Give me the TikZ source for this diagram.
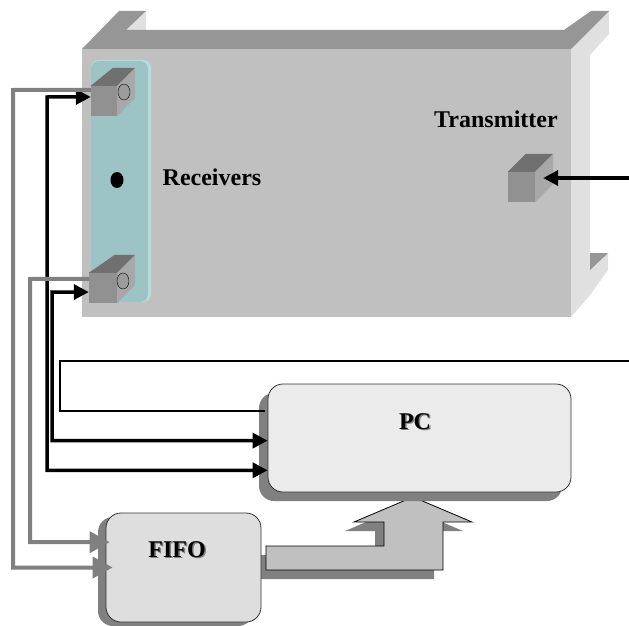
\documentclass[tikz,border=0pt]{standalone}
\usepackage{xcolor}
\usepackage{fontspec}
\setmainfont{Liberation Serif}
\usepackage{tikz}
\usetikzlibrary{
	arrows.meta,
	calc,
	shadows
}
\definecolor{CaseFront}{RGB}{192,192,192}
\definecolor{CaseTop}{RGB}{150,150,150}
\definecolor{CaseSide}{RGB}{224,224,224}
\definecolor{BarTeal}{RGB}{156,196,196}
\definecolor{BarEdge}{RGB}{181,222,222}
\definecolor{CubeFront}{RGB}{145,145,145}
\definecolor{CubeTop}{RGB}{112,112,112}
\definecolor{CubeSide}{RGB}{168,168,168}
\definecolor{WireGray}{RGB}{128,128,128}
\newcommand{\castlabel}[1]{\rlap{\kern1.5pt\raisebox{-1.5pt}{\textcolor{WireGray}{#1}}}#1}
\tikzset{
	capt/.style={font=\fontsize{24}{26}\selectfont\bfseries, inner sep=0pt},
	cubeface/.style={fill=CubeFront, inner sep=0pt},
	unitbox/.style={draw=black!80, line width=0.8pt, rounded corners=15pt, inner sep=0pt},
	graywire/.style={draw=WireGray, line width=4pt, -{Triangle[length=20pt,width=21pt]}},
	blackwire/.style={draw=black, line width=3.5pt, -{Triangle[length=15pt,width=15pt]}},
	thinwire/.style={draw=black, line width=2pt}
}

\begin{document}
\begin{tikzpicture}[x=1pt, y=-1pt]
		\useasboundingbox (0,0) rectangle (629,626);
		
		% case
		\fill[CaseSide] (126,30) -- (146,11) -- (146,30) -- cycle;
		\fill[CaseSide] (571,49) -- (609,11) -- (609,34) -- (590,55) -- (590,253) -- (608,253) -- (608,270) -- (590,295) -- (571,317) -- cycle;
		\fill[CaseTop] (590,253) -- (608,253) -- (590,270) -- cycle;
		\fill[CaseTop] (82,49) -- (119,11) -- (146,11) -- (126,30) -- (564,30) -- (591,11) -- (609,11) -- (571,49) -- cycle;
		\fill[CaseFront] (82,49) rectangle (571,317);
		
		% receiver bar
		\fill[BarEdge, rounded corners=8pt] (91,60) rectangle (151,302);
		\fill[BarTeal, rounded corners=8pt] (91,61) rectangle (148,302);
		\fill[black] (117,180) ellipse (6.5 and 8);
		
		% cubes
		\node[cubeface, minimum width=26pt, minimum height=30pt] (rxa) at (104,101) {};
		\node[cubeface, minimum width=28pt, minimum height=30pt] (rxb) at (103,288) {};
		\node[cubeface, minimum width=27pt, minimum height=30pt] (tx) at (521.5,187) {};
		\foreach \n/\dl in {rxa/22, rxb/26, tx/18} {
			\fill[CubeTop] (\n.north west) -- ++(\dl,-18) -- ($(\n.north east)+(18,-18)$) -- (\n.north east) -- cycle;
			\fill[CubeSide] (\n.north east) -- ++(18,-18) -- ++(0,30) -- (\n.south east) -- cycle;
		}
		\draw[fill=CubeFront!90!white] (124,92) ellipse (6 and 8);
		\draw[fill=CubeFront!90!white] (123,281) ellipse (6 and 8);
		
		\node[capt] (receivers) at (212,177) {Receivers};
		\node[capt] (transmitter) at (496,119) {Transmitter};
		
		% big arrow
		\fill[WireGray] (257,555) -- (375,555) -- (375,531) -- (345,531) -- (404,506) -- (463,531) -- (434,531) -- (434,579) -- (257,579) -- cycle;
		\draw[line width=0.8pt, fill=CaseFront] (266,546) -- (384,546) -- (384,522) -- (354,522) -- (413,497) -- (472,522) -- (443,522) -- (443,570) -- (266,570) -- cycle;
		
		% PC and FIFO
		\node[unitbox, fill=black!8, minimum width=303pt, minimum height=108pt,
			drop shadow={shadow xshift=-9pt, shadow yshift=-9pt, fill=WireGray, opacity=1}] (pc) at (419.5,438) {};
		\node[unitbox, fill=black!13, minimum width=155pt, minimum height=109pt,
			drop shadow={shadow xshift=-8pt, shadow yshift=-4pt, fill=WireGray, opacity=1}] (fifo) at (183.5,567.5) {};
		\node[capt] (pclabel) at (415,422) {\castlabel{PC}};
		\node[capt] (fifolabel) at (177,550) {\castlabel{FIFO}};
		
		% links
		\coordinate (txfeed) at (629,178);
		\coordinate (pcfeed) at (629,361);
		\draw[thinwire, shorten >=3pt] (pcfeed) -- (60,361) |- (pc.170);
		\draw[blackwire] (txfeed) -- ($(tx.east)+(8,-9)$);
		\draw[blackwire, {Triangle[length=15pt,width=15pt]}-{Triangle[length=15pt,width=15pt]}] (rxa.163) -- (47,97) |- (pc.192.65);
		\draw[blackwire, {Triangle[length=15pt,width=15pt]}-{Triangle[length=15pt,width=15pt]}] (rxb.196) -- (52,292) |- (pc.181);
		\draw[graywire] (rxa.140) -- (13,90) |- ($(fifo.west)+(7,0)$);
		\draw[graywire] (rxb.147) -- (30,279) |- ($(fifo.162.5)+(4,0)$);
	\end{tikzpicture}
\end{document}
